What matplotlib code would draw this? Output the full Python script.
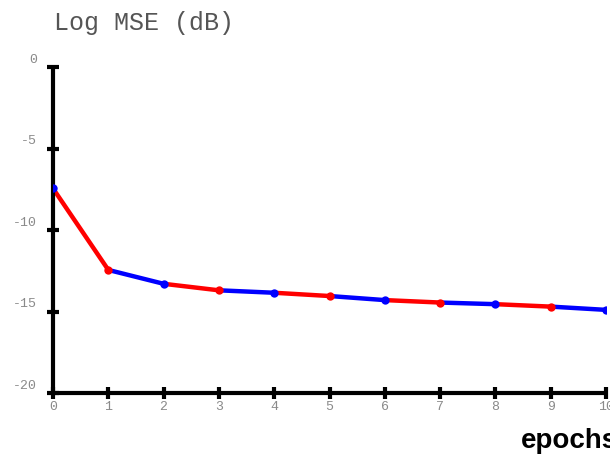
import matplotlib
matplotlib.use('Agg')
import matplotlib.pyplot as plt
import matplotlib.transforms as mtransforms

plt.rcParams['axes.unicode_minus'] = False

# 数据
epochs = [0, 1, 2, 3, 4, 5, 6, 7, 8, 9, 10]
log_mse = [-7.45, -12.45, -13.3, -13.7, -13.85, -14.05, -14.3, -14.45, -14.55, -14.7, -14.9]
seg_colors = ['red', 'blue']
y_ticks = [0, -5, -10, -15, -20]

fig = plt.figure(figsize=(6.1, 4.58), dpi=100)
ax = fig.add_axes([0.0869, 0.1419, 0.9066, 0.7118])

# 每段交替颜色
for i in range(len(epochs) - 1):
    ax.plot(epochs[i:i + 2], log_mse[i:i + 2], color=seg_colors[i % 2], lw=3.2,
            solid_capstyle='round', zorder=2)
for i in range(len(epochs)):
    ax.plot(epochs[i], log_mse[i], 'o', color=seg_colors[(i + 1) % 2], ms=6,
            mec='none', zorder=3)

ax.set_xlim(0, 10)
ax.set_ylim(-20, 0)
for s in ['top', 'right']:
    ax.spines[s].set_visible(False)
for s in ['left', 'bottom']:
    ax.spines[s].set_linewidth(3)
    ax.spines[s].set_capstyle('butt')

ax.set_xticks(epochs)
ax.set_yticks(y_ticks)
ax.tick_params(direction='inout', length=9, width=3, colors='black',
               labelcolor='#8a8a8a', labelsize=9.5)
ax.tick_params(axis='y', pad=7)
ax.tick_params(axis='x', pad=1)
for lab in ax.get_xticklabels() + ax.get_yticklabels():
    lab.set_fontfamily('Liberation Mono')
# y刻度标签略往上移
off = mtransforms.ScaledTranslation(0, 9 / 100, fig.dpi_scale_trans)
for lab in ax.get_yticklabels():
    lab.set_transform(lab.get_transform() + off)

fig.text(0.088, 0.95, 'Log MSE (dB)', family='Liberation Mono', fontsize=18,
         color='#555555', ha='left', va='center')
fig.text(0.854, 0.037, 'epochs', family='Liberation Sans', fontweight='bold',
         fontsize=20, color='black', ha='left', va='center')

fig.savefig('out.png', dpi=100)
